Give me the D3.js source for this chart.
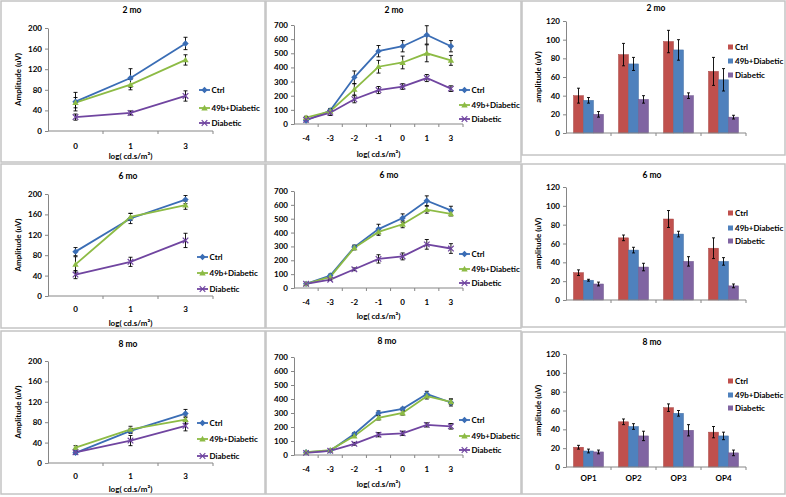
<!DOCTYPE html>
<html><head><meta charset="utf-8">
<script src="https://cdn.jsdelivr.net/npm/d3@7"></script>
<style>
body{margin:0;background:#fff}
svg text{font-family:Lato,"Open Sans",sans-serif;font-weight:bold;fill:#000}
</style>
</head><body><svg id="c" width="786" height="497"></svg>
<script>
// ---------- DATA ----------
const seriesNames = ["Ctrl", "49b+Diabetic", "Diabetic"];
const ageTitles = ["2 mo", "6 mo", "8 mo"];
const flashCats3 = ["0", "1", "3"];
const flashCats7 = ["-4", "-3", "-2", "-1", "0", "1", "3"];
const opCats = ["OP1", "OP2", "OP3", "OP4"];
const ticks3pt = [0, 40, 80, 120, 160, 200];
const ticks7pt = [0, 100, 200, 300, 400, 500, 600, 700];
const ticksOP = [0, 20, 40, 60, 80, 100, 120];
const xTitle = "log( cd.s/m\u00B2)";
const yTitleLine = "Amplitude (uV)";
const yTitleBar = "amplitude (uV)";

// 3-intensity panels (left column)
const c3_2mo_ctrl = [57, 103, 170],  c3_2mo_ctrl_err = [18, 18, 12];
const c3_2mo_49b  = [55, 90, 138],   c3_2mo_49b_err  = [10, 10, 10];
const c3_2mo_diab = [27, 35, 68],    c3_2mo_diab_err = [6, 4, 10];
const c3_6mo_ctrl = [87, 152, 189],  c3_6mo_ctrl_err = [8, 10, 8];
const c3_6mo_49b  = [62, 155, 178],  c3_6mo_49b_err  = [15, 7, 8];
const c3_6mo_diab = [42, 67, 109],   c3_6mo_diab_err = [8, 9, 14];
const c3_8mo_ctrl = [20, 63, 97],    c3_8mo_ctrl_err = [3, 5, 8];
const c3_8mo_49b  = [30, 66, 85],    c3_8mo_49b_err  = [4, 6, 7];
const c3_8mo_diab = [21, 44, 73],    c3_8mo_diab_err = [3, 10, 10];

// 7-intensity panels (middle column)
const c7_2mo_ctrl = [25, 95, 330, 515, 550, 630, 550],  c7_2mo_ctrl_err = [10, 15, 45, 40, 40, 65, 40];
const c7_2mo_49b  = [45, 90, 245, 405, 435, 500, 450],  c7_2mo_49b_err  = [10, 10, 40, 45, 45, 60, 35];
const c7_2mo_diab = [30, 80, 175, 240, 265, 325, 250],  c7_2mo_diab_err = [5, 20, 25, 25, 20, 25, 20];
const c7_6mo_ctrl = [30, 90, 295, 425, 505, 630, 560],  c7_6mo_ctrl_err = [5, 10, 15, 35, 30, 35, 30];
const c7_6mo_49b  = [30, 80, 290, 405, 460, 565, 535],  c7_6mo_49b_err  = [5, 10, 15, 25, 25, 25, 15];
const c7_6mo_diab = [30, 60, 135, 210, 228, 315, 285],  c7_6mo_diab_err = [5, 5, 10, 30, 25, 35, 35];
const c7_8mo_ctrl = [20, 30, 150, 300, 330, 435, 375],  c7_8mo_ctrl_err = [3, 5, 10, 15, 10, 20, 25];
const c7_8mo_49b  = [20, 35, 135, 265, 300, 420, 380],  c7_8mo_49b_err  = [3, 5, 8, 15, 15, 20, 20];
const c7_8mo_diab = [15, 30, 80, 145, 155, 215, 205],   c7_8mo_diab_err = [3, 3, 10, 15, 15, 15, 20];

// Oscillatory potentials (right column)
const op_2mo_ctrl = [40, 84, 98, 66],  op_2mo_ctrl_err = [8, 12, 12, 15];
const op_2mo_49b  = [35, 74, 89, 57],  op_2mo_49b_err  = [3, 7, 11, 12];
const op_2mo_diab = [20, 36, 40, 17],  op_2mo_diab_err = [3, 4, 3, 2];
const op_6mo_ctrl = [29, 66, 86, 55],  op_6mo_ctrl_err = [3, 3, 9, 11];
const op_6mo_49b  = [21, 53, 70, 41],  op_6mo_49b_err  = [1, 3, 3, 4];
const op_6mo_diab = [17, 35, 41, 15],  op_6mo_diab_err = [2, 4, 5, 2];
const op_8mo_ctrl = [21, 48, 63, 37],  op_8mo_ctrl_err = [2, 3, 4, 6];
const op_8mo_49b  = [17, 43, 57, 33],  op_8mo_49b_err  = [2, 3, 3, 4];
const op_8mo_diab = [16, 33, 39, 15],  op_8mo_diab_err = [2, 5, 6, 3];

// ---------- STYLE / LAYOUT ----------
const lineColors = ["#3A6DB5", "#8DBB45", "#7045A0"];
const barColors  = ["#C0504D", "#4F81BD", "#8064A2"];
const markerTypes = ["diamond", "triangle", "x"];
const axisColor = "#868686";
const fs = 8;

const svg = d3.select("#c");

// panel frames
const frames = [
  [1, 1, 265, 162], [266, 1, 521, 162], [522, 1, 785, 155],
  [1, 164, 265, 328], [266, 164, 521, 328], [522, 164, 785, 327],
  [1, 331, 265, 494], [266, 331, 521, 494], [522, 332, 785, 494]
];
svg.selectAll("rect.frame").data(frames).join("rect").attr("class", "frame")
  .attr("x", d => d[0]).attr("y", d => d[1])
  .attr("width", d => d[2] - d[0]).attr("height", d => d[3] - d[1])
  .attr("fill", "none").attr("stroke", "#C4C4C4").attr("stroke-width", 1.5);

function marker(g, type, x, y, color) {
  if (type === "diamond") {
    g.append("path").attr("d", `M${x},${y-3.2}L${x+3.2},${y}L${x},${y+3.2}L${x-3.2},${y}Z`).attr("fill", color);
  } else if (type === "triangle") {
    g.append("path").attr("d", `M${x},${y-3.2}L${x+3.2},${y+2.4}L${x-3.2},${y+2.4}Z`).attr("fill", color);
  } else {
    g.append("path").attr("d", `M${x-2.8},${y-2.8}L${x+2.8},${y+2.8}M${x-2.8},${y+2.8}L${x+2.8},${y-2.8}`)
      .attr("stroke", color).attr("stroke-width", 1.2).attr("fill", "none");
  }
}

function errBar(g, x, y, y1, y2, cap) {
  g.append("path").attr("d", `M${x},${y1}V${y2}M${x-cap},${y1}H${x+cap}M${x-cap},${y2}H${x+cap}`)
    .attr("stroke", "#000").attr("stroke-width", 0.9).attr("fill", "none");
}

function yAxis(g, y, ticks, x0) {
  const ax = g.append("g").attr("transform", `translate(${x0},0)`)
    .call(d3.axisLeft(y).tickValues(ticks).tickSize(3).tickSizeOuter(0).tickPadding(3));
  ax.select(".domain").attr("stroke", axisColor);
  ax.selectAll(".tick line").attr("stroke", axisColor);
  ax.selectAll(".tick text").attr("font-size", fs).attr("font-family", null);
}

function xAxisBoundaries(g, x, cats, yBase, labelY, showLabels) {
  const bw = x.step();
  const r = x.range();
  g.append("line").attr("x1", r[0]).attr("x2", r[1]).attr("y1", yBase).attr("y2", yBase).attr("stroke", axisColor);
  const bounds = d3.range(cats.length + 1).map(i => r[0] + i * bw);
  g.selectAll(null).data(bounds.slice(1)).join("line")
    .attr("x1", d => d).attr("x2", d => d).attr("y1", yBase).attr("y2", yBase + 3).attr("stroke", axisColor);
  if (showLabels) {
    g.selectAll(null).data(cats).join("text")
      .attr("x", d => x(d) + bw / 2).attr("y", labelY).attr("text-anchor", "middle")
      .attr("dominant-baseline", "central").attr("font-size", fs).text(d => d);
  }
}

function linePanel(cfg) {
  const g = svg.append("g");
  const x = d3.scaleBand().domain(cfg.cats).range([cfg.x0, cfg.x1]);
  const y = d3.scaleLinear().domain([0, cfg.ticks[cfg.ticks.length - 1]]).range([cfg.yBot, cfg.yTop]);
  yAxis(g, y, cfg.ticks, cfg.x0);
  xAxisBoundaries(g, x, cfg.cats, cfg.yBot, cfg.xLabY, true);
  const cx = c => x(c) + x.bandwidth() / 2;
  cfg.series.forEach((s, si) => {
    const pts = cfg.cats.map((c, i) => [cx(c), y(s.v[i])]);
    g.append("path").attr("d", d3.line()(pts)).attr("fill", "none")
      .attr("stroke", lineColors[si]).attr("stroke-width", 1.8);
  });
  cfg.series.forEach((s, si) => {
    cfg.cats.forEach((c, i) => {
      errBar(g, cx(c), y(s.v[i]), y(s.v[i] + s.e[i]), y(Math.max(0, s.v[i] - s.e[i])), 2);
    });
  });
  cfg.series.forEach((s, si) => {
    cfg.cats.forEach((c, i) => marker(g, markerTypes[si], cx(c), y(s.v[i]), lineColors[si]));
  });
  g.append("text").attr("x", cfg.titleX).attr("y", cfg.titleY).attr("text-anchor", "middle")
    .attr("dominant-baseline", "central").attr("font-size", fs + 0.5).text(cfg.title);
  g.append("text").attr("x", (cfg.x0 + cfg.x1) / 2).attr("y", cfg.xTitleY).attr("text-anchor", "middle")
    .attr("dominant-baseline", "central").attr("font-size", fs).text(xTitle);
  if (cfg.yTitle) {
    g.append("text").attr("transform", `translate(${cfg.yTitleX},${(cfg.yTop + cfg.yBot) / 2}) rotate(-90)`)
      .attr("text-anchor", "middle").attr("dominant-baseline", "central").attr("font-size", fs).text(cfg.yTitle);
  }
  seriesNames.forEach((n, si) => {
    const ly = cfg.legY[si];
    g.append("line").attr("x1", cfg.legX).attr("x2", cfg.legX + 11).attr("y1", ly).attr("y2", ly)
      .attr("stroke", lineColors[si]).attr("stroke-width", 1.8);
    marker(g, markerTypes[si], cfg.legX + 5.5, ly, lineColors[si]);
    g.append("text").attr("x", cfg.legX + 12.5).attr("y", ly).attr("dominant-baseline", "central")
      .attr("font-size", fs).text(n);
  });
}

function barPanel(cfg) {
  const g = svg.append("g");
  const x = d3.scaleBand().domain(opCats).range([cfg.x0, cfg.x1]);
  const xi = d3.scaleBand().domain(seriesNames).range([0, x.bandwidth()]).paddingOuter(0.75).paddingInner(0);
  const y = d3.scaleLinear().domain([0, 120]).range([cfg.yBot, cfg.yTop]);
  cfg.series.forEach((s, si) => {
    opCats.forEach((c, i) => {
      g.append("rect").attr("x", x(c) + xi(seriesNames[si])).attr("y", y(s.v[i]))
        .attr("width", xi.bandwidth()).attr("height", y(0) - y(s.v[i]))
        .attr("fill", barColors[si]).attr("stroke", d3.color(barColors[si]).darker(0.4)).attr("stroke-width", 0.5);
    });
  });
  cfg.series.forEach((s, si) => {
    opCats.forEach((c, i) => {
      const cx = x(c) + xi(seriesNames[si]) + xi.bandwidth() / 2;
      errBar(g, cx, y(s.v[i]), y(s.v[i] + s.e[i]), y(s.v[i] - s.e[i]), 1.5);
    });
  });
  yAxis(g, y, ticksOP, cfg.x0);
  xAxisBoundaries(g, x, opCats, cfg.yBot, cfg.xLabY, cfg.showCats);
  g.append("text").attr("x", cfg.titleX).attr("y", cfg.titleY).attr("text-anchor", "middle")
    .attr("dominant-baseline", "central").attr("font-size", fs + 0.5).text(cfg.title);
  g.append("text").attr("transform", `translate(${cfg.yTitleX},${(cfg.yTop + cfg.yBot) / 2}) rotate(-90)`)
    .attr("text-anchor", "middle").attr("dominant-baseline", "central").attr("font-size", fs).text(yTitleBar);
  seriesNames.forEach((n, si) => {
    const ly = cfg.legY[si];
    g.append("rect").attr("x", cfg.legX).attr("y", ly - 2.5).attr("width", 5).attr("height", 5).attr("fill", barColors[si]);
    g.append("text").attr("x", cfg.legX + 7).attr("y", ly).attr("dominant-baseline", "central")
      .attr("font-size", fs).text(n);
  });
}

// ---------- PANELS ----------
linePanel({ cats: flashCats3, ticks: ticks3pt, x0: 48, x1: 213, yTop: 28, yBot: 131, xLabY: 146, xTitleY: 156,
  title: ageTitles[0], titleX: 132, titleY: 10, yTitle: yTitleLine, yTitleX: 18, legX: 199, legY: [90, 108, 123],
  series: [{v: c3_2mo_ctrl, e: c3_2mo_ctrl_err}, {v: c3_2mo_49b, e: c3_2mo_49b_err}, {v: c3_2mo_diab, e: c3_2mo_diab_err}] });
linePanel({ cats: flashCats3, ticks: ticks3pt, x0: 48, x1: 213, yTop: 194, yBot: 296, xLabY: 309, xTitleY: 323,
  title: ageTitles[1], titleX: 128, titleY: 176, yTitle: yTitleLine, yTitleX: 18, legX: 197, legY: [257, 273, 289],
  series: [{v: c3_6mo_ctrl, e: c3_6mo_ctrl_err}, {v: c3_6mo_49b, e: c3_6mo_49b_err}, {v: c3_6mo_diab, e: c3_6mo_diab_err}] });
linePanel({ cats: flashCats3, ticks: ticks3pt, x0: 48, x1: 213, yTop: 361, yBot: 463, xLabY: 476, xTitleY: 489,
  title: ageTitles[2], titleX: 128, titleY: 344, yTitle: yTitleLine, yTitleX: 18, legX: 197, legY: [423, 439, 456],
  series: [{v: c3_8mo_ctrl, e: c3_8mo_ctrl_err}, {v: c3_8mo_49b, e: c3_8mo_49b_err}, {v: c3_8mo_diab, e: c3_8mo_diab_err}] });

linePanel({ cats: flashCats7, ticks: ticks7pt, x0: 294, x1: 463, yTop: 25, yBot: 124, xLabY: 138, xTitleY: 154,
  title: ageTitles[0], titleX: 394, titleY: 10, legX: 459, legY: [90, 105, 119],
  series: [{v: c7_2mo_ctrl, e: c7_2mo_ctrl_err}, {v: c7_2mo_49b, e: c7_2mo_49b_err}, {v: c7_2mo_diab, e: c7_2mo_diab_err}] });
linePanel({ cats: flashCats7, ticks: ticks7pt, x0: 294, x1: 463, yTop: 191, yBot: 288, xLabY: 302, xTitleY: 316,
  title: ageTitles[1], titleX: 389, titleY: 175, legX: 459, legY: [254, 269, 283],
  series: [{v: c7_6mo_ctrl, e: c7_6mo_ctrl_err}, {v: c7_6mo_49b, e: c7_6mo_49b_err}, {v: c7_6mo_diab, e: c7_6mo_diab_err}] });
linePanel({ cats: flashCats7, ticks: ticks7pt, x0: 294, x1: 463, yTop: 357, yBot: 455, xLabY: 469, xTitleY: 484,
  title: ageTitles[2], titleX: 387, titleY: 341, legX: 459, legY: [420, 436, 450],
  series: [{v: c7_8mo_ctrl, e: c7_8mo_ctrl_err}, {v: c7_8mo_49b, e: c7_8mo_49b_err}, {v: c7_8mo_diab, e: c7_8mo_diab_err}] });

barPanel({ x0: 566, x1: 746, yTop: 21, yBot: 133, xLabY: 145, showCats: false,
  title: ageTitles[0], titleX: 656, titleY: 8, yTitleX: 538, legX: 728, legY: [47, 61, 75],
  series: [{v: op_2mo_ctrl, e: op_2mo_ctrl_err}, {v: op_2mo_49b, e: op_2mo_49b_err}, {v: op_2mo_diab, e: op_2mo_diab_err}] });
barPanel({ x0: 566, x1: 746, yTop: 187, yBot: 300, xLabY: 312, showCats: false,
  title: ageTitles[1], titleX: 652, titleY: 175, yTitleX: 538, legX: 728, legY: [213, 228, 241],
  series: [{v: op_6mo_ctrl, e: op_6mo_ctrl_err}, {v: op_6mo_49b, e: op_6mo_49b_err}, {v: op_6mo_diab, e: op_6mo_diab_err}] });
barPanel({ x0: 566, x1: 746, yTop: 354, yBot: 467, xLabY: 478, showCats: true,
  title: ageTitles[2], titleX: 652, titleY: 342, yTitleX: 538, legX: 728, legY: [381, 395, 408],
  series: [{v: op_8mo_ctrl, e: op_8mo_ctrl_err}, {v: op_8mo_49b, e: op_8mo_49b_err}, {v: op_8mo_diab, e: op_8mo_diab_err}] });
</script>
</body></html>
